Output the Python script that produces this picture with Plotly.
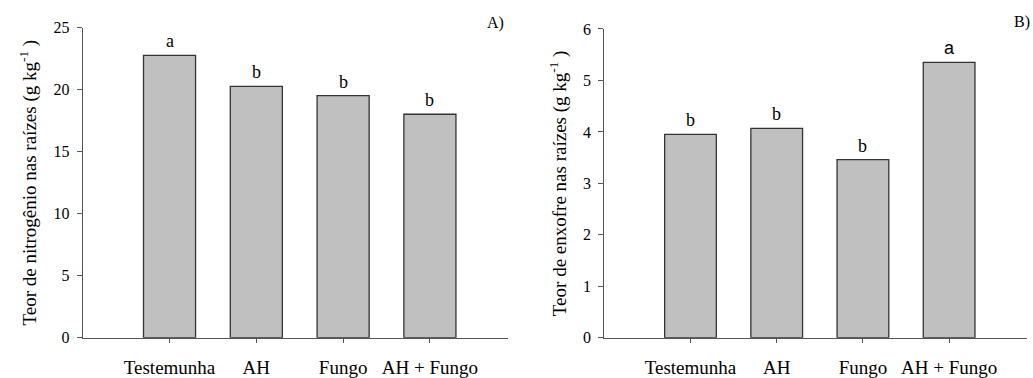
import plotly.graph_objects as go

categories = ["Testemunha", "AH", "Fungo", "AH + Fungo"]
nitrogenio = [22.77, 20.27, 19.52, 18.02]
enxofre = [3.95, 4.07, 3.46, 5.35]
letras_n = ["a", "b", "b", "b"]
letras_s = ["b", "b", "b", "a"]
yticks_n = [0, 5, 10, 15, 20, 25]
yticks_s = [0, 1, 2, 3, 4, 5, 6]

SERIF = "Liberation Serif"
SANS = "Liberation Sans"
xpos = list(range(len(categories)))

fig = go.Figure()
bar_style = dict(marker=dict(color="#c0c0c0", line=dict(color="#333333", width=1.3)),
                 width=0.6, showlegend=False, hoverinfo="skip")
fig.add_trace(go.Bar(x=xpos, y=nitrogenio, xaxis="x", yaxis="y", **bar_style))
fig.add_trace(go.Bar(x=xpos, y=enxofre, xaxis="x2", yaxis="y2", **bar_style))

axis_common = dict(showgrid=False, zeroline=False, showline=True, linecolor="#555555",
                   linewidth=1, ticks="outside", ticklen=5, tickcolor="#555555",
                   automargin=False,
                   tickfont=dict(family=SERIF, size=16, color="#000"))

xcommon = dict(axis_common, range=[-1, 3.9], tickmode="array", tickvals=xpos,
               ticktext=categories, ticklen=4, ticklabelstandoff=8,
               tickfont=dict(family=SERIF, size=19, color="#000"))

fig.update_layout(
    width=1033, height=378, autosize=False,
    margin=dict(l=0, r=0, t=0, b=0, pad=0),
    paper_bgcolor="white", plot_bgcolor="white",
    showlegend=False,
    xaxis=dict(xcommon, domain=[0.0801, 0.4918], anchor="y"),
    yaxis=dict(axis_common, domain=[0.1066, 0.9267], anchor="x", range=[0, 25],
               tickmode="array", tickvals=yticks_n, ticklabelstandoff=4,
               title=dict(text="Teor de nitrogênio nas raízes (g kg<sup>-1</sup> )",
                          font=dict(family=SERIF, size=19, color="#000"), standoff=11)),
    xaxis2=dict(xcommon, domain=[0.585, 0.9939], anchor="y2"),
    yaxis2=dict(axis_common, domain=[0.1066, 0.9233], anchor="x2", range=[0, 6],
                tickmode="array", tickvals=yticks_s, ticklabelstandoff=4,
                title=dict(text="Teor de enxofre nas raízes (g kg<sup>-1</sup> )",
                           font=dict(family=SERIF, size=19, color="#000"), standoff=11)),
)

annotations = []
for i, (v, l) in enumerate(zip(nitrogenio, letras_n)):
    annotations.append(dict(x=i, y=v, xref="x", yref="y", text=l, showarrow=False,
                            yanchor="bottom", yshift=2,
                            font=dict(family=SERIF, size=18, color="#000")))
for i, (v, l) in enumerate(zip(enxofre, letras_s)):
    fam = SANS if l == "a" else SERIF
    annotations.append(dict(x=i, y=v, xref="x2", yref="y2", text=l, showarrow=False,
                            yanchor="bottom", yshift=2,
                            font=dict(family=fam, size=18, color="#000")))
panel_labels = [("A)", 495, 23), ("B)", 1022, 22)]
for txt, px, py in panel_labels:
    annotations.append(dict(x=px / 1033, y=1 - py / 378, xref="paper", yref="paper",
                            xanchor="center", yanchor="middle",
                            text=txt, showarrow=False,
                            font=dict(family=SERIF, size=16, color="#000")))
fig.update_layout(annotations=annotations)

fig.write_html("out.html")
